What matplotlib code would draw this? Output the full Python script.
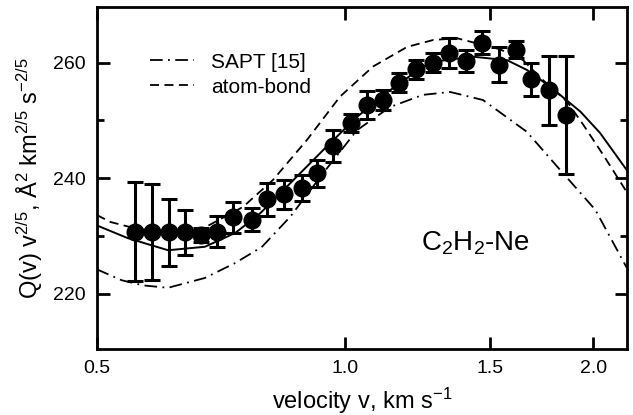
import numpy as np
import matplotlib
matplotlib.use("Agg")
import matplotlib.pyplot as plt
from matplotlib.ticker import FixedLocator, NullLocator, FixedFormatter

plt.rcParams['font.family'] = ['Liberation Sans', 'DejaVu Sans']
plt.rcParams['mathtext.fontset'] = 'custom'
plt.rcParams['mathtext.rm'] = 'Liberation Sans'
plt.rcParams['mathtext.it'] = 'Liberation Sans:italic'

# measured points, velocity in km/s
v = [0.556, 0.584, 0.612, 0.640, 0.669, 0.700, 0.732, 0.771, 0.805, 0.843, 0.886,
     0.924, 0.968, 1.016, 1.062, 1.113, 1.164, 1.219, 1.278, 1.337, 1.401, 1.467,
     1.537, 1.611, 1.681, 1.765, 1.852]
q = [230.7, 230.7, 230.6, 230.6, 230.1, 230.7, 233.2, 232.8, 236.3, 237.2, 238.3,
     240.8, 245.5, 249.5, 252.6, 253.5, 256.5, 258.8, 260.0, 261.7, 260.3, 263.4,
     259.6, 262.2, 257.1, 255.2, 250.9]
err = [8.6, 8.3, 5.8, 3.9, 1.2, 2.7, 2.7, 2.0, 2.9, 2.5, 2.3,
       2.3, 2.8, 1.6, 2.4, 1.7, 1.6, 1.7, 1.7, 2.6, 1.9, 2.0,
       3.0, 1.5, 2.9, 6.0, 10.2]

# SAPT [15]
sapt_v = [0.5, 0.536, 0.570, 0.610, 0.676, 0.736, 0.793, 0.858, 0.940, 1.034, 1.134,
          1.243, 1.341, 1.470, 1.661, 1.823, 2.011, 2.195]
sapt_q = [224.2, 222.3, 221.4, 221.0, 222.7, 225.3, 228.1, 233.3, 240.8, 248.3, 252.3,
          254.4, 254.9, 253.5, 248.0, 241.4, 234.5, 224.5]

# atom-bond
ab_v = [0.5, 0.519, 0.556, 0.605, 0.667, 0.752, 0.818, 0.899, 0.986, 1.081, 1.189,
        1.279, 1.367, 1.540, 1.644, 1.724, 1.859, 1.943, 2.056, 2.195]
ab_q = [233.6, 232.4, 231.3, 230.6, 231.0, 235.0, 239.7, 246.6, 254.1, 259.3, 262.7,
        263.9, 264.2, 262.3, 260.4, 257.4, 253.2, 249.3, 244.0, 237.6]

# fit (solid)
fit_v = [0.5, 0.545, 0.610, 0.676, 0.736, 0.789, 0.858, 0.940, 1.034, 1.134, 1.243,
         1.304, 1.430, 1.572, 1.662, 1.773, 1.929, 2.038, 2.195]
fit_q = [231.8, 229.6, 227.5, 228.1, 230.5, 233.9, 239.1, 244.8, 250.6, 255.2, 259.3,
         260.3, 261.0, 260.4, 258.7, 255.8, 251.5, 247.8, 241.4]

x_ticks = [0.5, 1.0, 1.5, 2.0]
x_ticklabels = ["0.5", "1.0", "1.5", "2.0"]

fig = plt.figure(figsize=(6.33, 4.15), dpi=100)
ax = fig.add_axes([0.153, 0.159, 0.837, 0.824])

ax.plot(sapt_v, sapt_q, color="black", lw=1.3, dashes=[7, 3, 1, 3], label="SAPT [15]", zorder=2)
ax.plot(ab_v, ab_q, color="black", lw=1.3, dashes=[5, 3], label="atom-bond", zorder=2)
ax.plot(fit_v, fit_q, color="black", lw=1.4, zorder=2)
ax.errorbar(v, q, yerr=err, fmt="o", color="black", ms=12, elinewidth=2.2,
            capsize=6, capthick=2.2, zorder=3)

ax.set_xscale("log")
ax.set_xlim(0.5, 2.195)
ax.set_ylim(210.4, 269.6)
ax.xaxis.set_major_locator(FixedLocator(x_ticks))
ax.xaxis.set_major_formatter(FixedFormatter(x_ticklabels))
ax.xaxis.set_minor_locator(NullLocator())
ax.yaxis.set_major_locator(FixedLocator([220, 240, 260]))
ax.yaxis.set_minor_locator(FixedLocator([230, 250]))

ax.tick_params(which="both", direction="in", top=True, right=True, width=2, labelsize=14)
ax.tick_params(which="major", length=9, pad=8)
ax.tick_params(which="minor", length=5)
for s in ax.spines.values():
    s.set_linewidth(2)

ax.set_xlabel(r"velocity v, km s$^{-1}$", fontsize=17, labelpad=6)
ax.set_ylabel(r"Q(v) v$^{2/5}$, Å$^{2}$ km$^{2/5}$ s$^{-2/5}$", fontsize=17, labelpad=6)

ax.text(0.714, 0.31, r"C$_2$H$_2$-Ne", transform=ax.transAxes, fontsize=20,
        ha="center", va="center")

ax.legend(loc="upper left", bbox_to_anchor=(0.1, 0.867), frameon=False, fontsize=15,
          handlelength=2.1, handletextpad=0.85, labelspacing=0.3, borderpad=0,
          borderaxespad=0)

plt.savefig("out.png", dpi=100)
